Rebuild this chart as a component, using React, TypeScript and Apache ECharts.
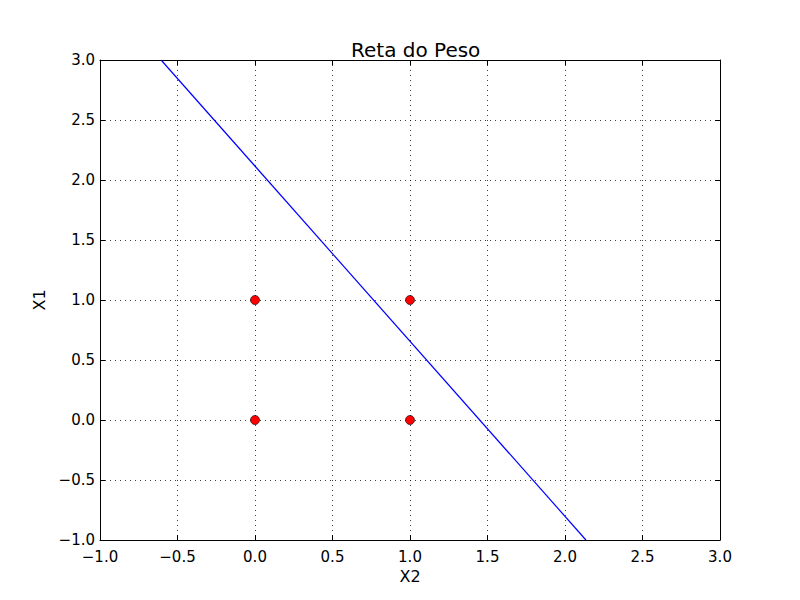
import React, { useEffect, useRef } from 'react';
import * as echarts from 'echarts';

const titleText = 'Reta do Peso';
const xName = 'X2';
const yName = 'X1';

// the four input points
const pointsX = [0, 0, 1, 1];
const pointsY = [0, 1, 0, 1];

// weight line, read where it meets the frame
const lineX = [-0.606, 2.135];
const lineY = [3, -1];

const axisMin = -1;
const axisMax = 3;
const axisStep = 0.5;

const fontFamily = '"DejaVu Sans", sans-serif';

const fmt = (v: number) => v.toFixed(1).replace('-', '\u2212');

const App: React.FC = () => {
  const chartRef = useRef<HTMLDivElement>(null);

  useEffect(() => {
    if (!chartRef.current) return;
    const chart = echarts.init(chartRef.current, undefined, { renderer: 'svg' });

    const baseAxis = (
      position: string,
      show: boolean,
      name: string,
      nameGap: number,
      rotate = 0,
      labelMargin = 5
    ) => ({
      type: 'value',
      position,
      min: axisMin,
      max: axisMax,
      interval: axisStep,
      name: show ? name : '',
      nameLocation: 'middle',
      nameGap,
      nameRotate: rotate,
      nameTextStyle: { color: '#000', fontSize: 16, fontFamily },
      axisLine: { show: true, onZero: false, lineStyle: { color: '#000', width: 1 } },
      axisTick: { show: true, inside: true, length: 5, lineStyle: { color: '#000' } },
      axisLabel: {
        show,
        color: '#000',
        fontSize: 15,
        fontFamily,
        margin: labelMargin,
        formatter: fmt,
      },
      splitLine: show
        ? { show: true, lineStyle: { color: '#000', width: 1, type: [1, 4], opacity: 0.75 } }
        : { show: false },
    });

    const option = {
      animation: false,
      backgroundColor: '#fff',
      title: {
        text: titleText,
        left: 346,
        top: 35,
        textStyle: { color: '#000', fontSize: 20, fontWeight: 'normal', fontFamily },
      },
      grid: { left: 100, right: 80, top: 60, bottom: 60, containLabel: false },
      xAxis: [
        baseAxis('bottom', true, xName, 21, 0, 9),
        { ...baseAxis('top', false, '', 0), gridIndex: 0 },
      ],
      yAxis: [
        baseAxis('left', true, yName, 50, 90, 5),
        { ...baseAxis('right', false, '', 0), gridIndex: 0 },
      ],
      series: [
        {
          type: 'line',
          data: lineX.map((x, i) => [x, lineY[i]]),
          showSymbol: false,
          symbol: 'none',
          clip: true,
          lineStyle: { color: '#0000ff', width: 1.2 },
          z: 3,
        },
        {
          type: 'scatter',
          data: pointsX.map((x, i) => [x, pointsY[i]]),
          symbol: 'circle',
          symbolSize: 9,
          itemStyle: { color: '#ff0000', borderColor: '#000', borderWidth: 0.6, opacity: 1 },
          z: 4,
        },
      ],
    };

    chart.setOption(option);
    return () => {
      chart.dispose();
    };
  }, []);

  return (
    <div
      ref={chartRef}
      style={{ position: 'absolute', left: 0, top: 0, width: '800px', height: '600px' }}
    ></div>
  );
};

export default App;
